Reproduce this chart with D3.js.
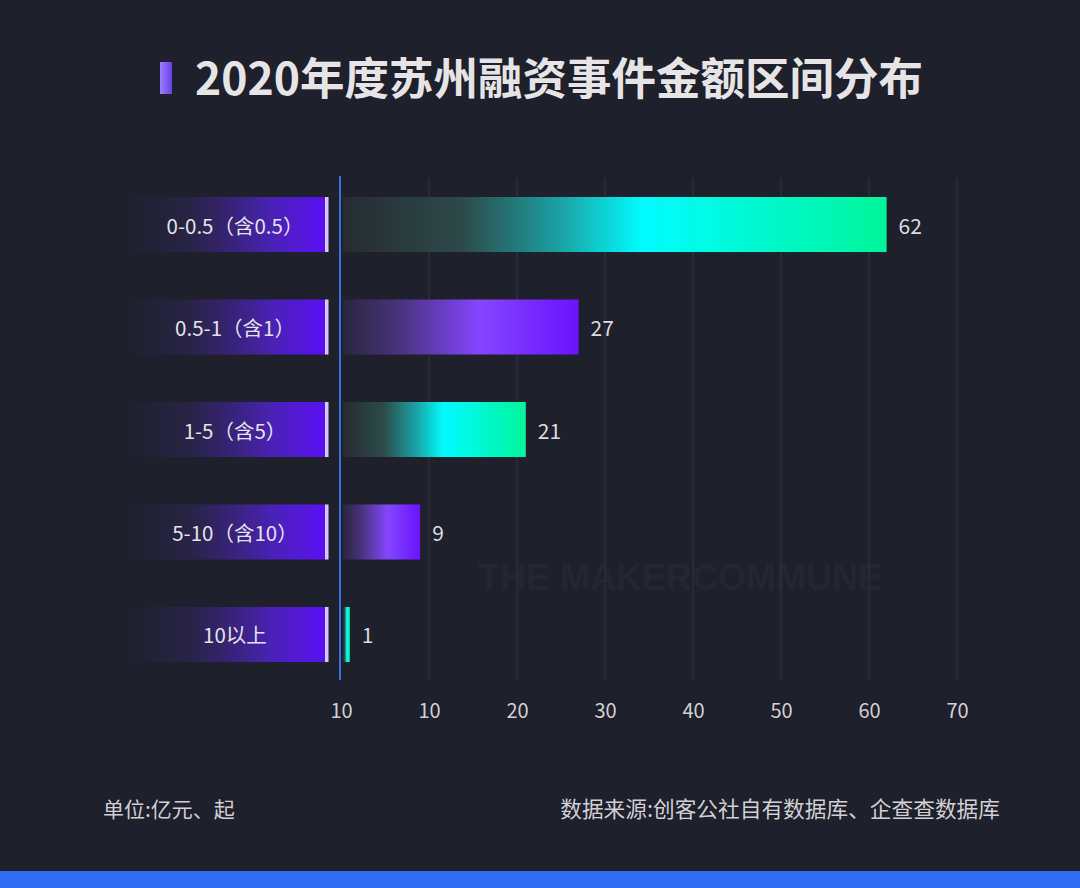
<!DOCTYPE html>
<html>
<head>
<meta charset="utf-8">
<script src="https://cdn.jsdelivr.net/npm/d3@7"></script>
<style>
  html, body { margin: 0; padding: 0; background: #1e202b; }
  svg { display: block; }
</style>
</head>
<body>
<svg id="chart" width="1080" height="888"></svg>
<script>
// ---- data ----
const categories = ["0-0.5（含0.5）", "0.5-1（含1）", "1-5（含5）", "5-10（含10）", "10以上"];
const values = [62, 27, 21, 9, 1];
const barColors = ["cyan", "purple", "cyan", "purple", "cyan"];
const tickValues = [0, 10, 20, 30, 40, 50, 60, 70];
const tickLabels = ["10", "10", "20", "30", "40", "50", "60", "70"];
const titleText = "2020年度苏州融资事件金额区间分布";
const unitText = "单位:亿元、起";
const sourceText = "数据来源:创客公社自有数据库、企查查数据库";
const watermarkText = "THE MAKERCOMMUNE";

// ---- setup ----
const svg = d3.select("#chart");
const W = 1080, H = 888;
const font = "'Noto Sans CJK SC', 'Noto Sans', sans-serif";

svg.append("rect").attr("width", W).attr("height", H).attr("fill", "#1e202b");

const defs = svg.append("defs");
function lg(id, stops) {
  const g = defs.append("linearGradient").attr("id", id)
    .attr("x1", "0%").attr("x2", "100%").attr("y1", "0%").attr("y2", "0%");
  stops.forEach(s => g.append("stop").attr("offset", s[0]).attr("stop-color", s[1]).attr("stop-opacity", s[2] == null ? 1 : s[2]));
}
lg("gCyan", [["0%", "#262c31", 1], ["22%", "#2d4a48", 1], ["40%", "#1aa2a4", 1], ["55%", "#00fcff", 1], ["100%", "#00f59a", 1]]);
lg("gPurple", [["0%", "#29263c", 1], ["25%", "#4a3480", 1], ["58%", "#8446ff", 1], ["100%", "#6a12ff", 1]]);
lg("gLabel", [["0%", "#2a2545", 0], ["35%", "#2c2550", 0.75], ["75%", "#4a22b8", 1], ["100%", "#5a10f2", 1]]);
lg("gMark", [["0%", "#9a80ff", 1], ["100%", "#6a40e8", 1]]);

// watermark
svg.append("text").attr("x", 478).attr("y", 590)
  .attr("font-family", "'Liberation Sans', sans-serif").attr("font-weight", 700)
  .attr("font-size", 36).attr("fill", "#232633").text(watermarkText);

// scales
const x = d3.scaleLinear().domain([0, 70]).range([341, 957]);
const y = d3.scaleBand().domain(categories).range([197, 662]).paddingInner(0.463).paddingOuter(0);

// grid lines
svg.append("g").selectAll("line").data(tickValues.filter(v => v > 0)).join("line")
  .attr("x1", d => x(d)).attr("x2", d => x(d))
  .attr("y1", 178).attr("y2", 680)
  .attr("stroke", "#30333f").attr("stroke-width", 1.2);

// axis labels
const axis = d3.axisBottom(x).tickValues(tickValues)
  .tickFormat((d, i) => tickLabels[i]).tickSize(0).tickPadding(0);
const axG = svg.append("g").attr("transform", "translate(0,702)").call(axis);
axG.select(".domain").remove();
axG.selectAll("text").attr("font-family", font).attr("font-size", 20)
  .attr("fill", "#d0d0d4").attr("dy", "0.8em");

// blue vertical axis line
svg.append("line").attr("x1", x(0) - 1).attr("x2", x(0) - 1)
  .attr("y1", 176).attr("y2", 680).attr("stroke", "#3b6fe0").attr("stroke-width", 2);

// left label boxes
const lab = svg.append("g");
lab.selectAll("rect.lb").data(categories).join("rect").attr("class", "lb")
  .attr("x", 118).attr("width", 207)
  .attr("y", d => y(d)).attr("height", y.bandwidth())
  .attr("fill", "url(#gLabel)");
lab.selectAll("rect.ln").data(categories).join("rect").attr("class", "ln")
  .attr("x", 325).attr("width", 3.5)
  .attr("y", d => y(d)).attr("height", y.bandwidth())
  .attr("fill", "#d6c8ff");
lab.selectAll("text").data(categories).join("text")
  .attr("x", 235).attr("y", d => y(d) + y.bandwidth() / 2)
  .attr("text-anchor", "middle").attr("dominant-baseline", "central")
  .attr("font-family", font).attr("font-size", 20.5).attr("fill", "#e4e2ea")
  .text(d => d);

// bars
const bars = svg.append("g");
bars.selectAll("rect").data(values).join("rect")
  .attr("x", x(0) + 2)
  .attr("y", (d, i) => y(categories[i]))
  .attr("width", d => x(d) - x(0) - 2)
  .attr("height", y.bandwidth())
  .attr("fill", (d, i) => barColors[i] === "cyan" ? "url(#gCyan)" : "url(#gPurple)");

// value labels
bars.selectAll("text").data(values).join("text")
  .attr("x", d => x(d) + 12)
  .attr("y", (d, i) => y(categories[i]) + y.bandwidth() / 2)
  .attr("dominant-baseline", "central")
  .attr("font-family", font).attr("font-size", 21).attr("fill", "#dcdce0")
  .text(d => d);

// title
svg.append("rect").attr("x", 160).attr("y", 62).attr("width", 12).attr("height", 32)
  .attr("fill", "url(#gMark)");
svg.append("text").attr("x", 195).attr("y", 95)
  .attr("font-family", font).attr("font-weight", 700).attr("font-size", 44.5)
  .attr("fill", "#e6e4e6").text(titleText);

// footer
svg.append("text").attr("x", 103).attr("y", 817)
  .attr("font-family", font).attr("font-size", 21).attr("fill", "#cfcfd4").text(unitText);
svg.append("text").attr("x", 1000).attr("y", 817).attr("text-anchor", "end")
  .attr("font-family", font).attr("font-size", 21.7).attr("fill", "#cfcfd4").text(sourceText);

// bottom strip
svg.append("rect").attr("x", 0).attr("y", 871).attr("width", W).attr("height", 17).attr("fill", "#2f6cf4");
</script>
</body>
</html>
